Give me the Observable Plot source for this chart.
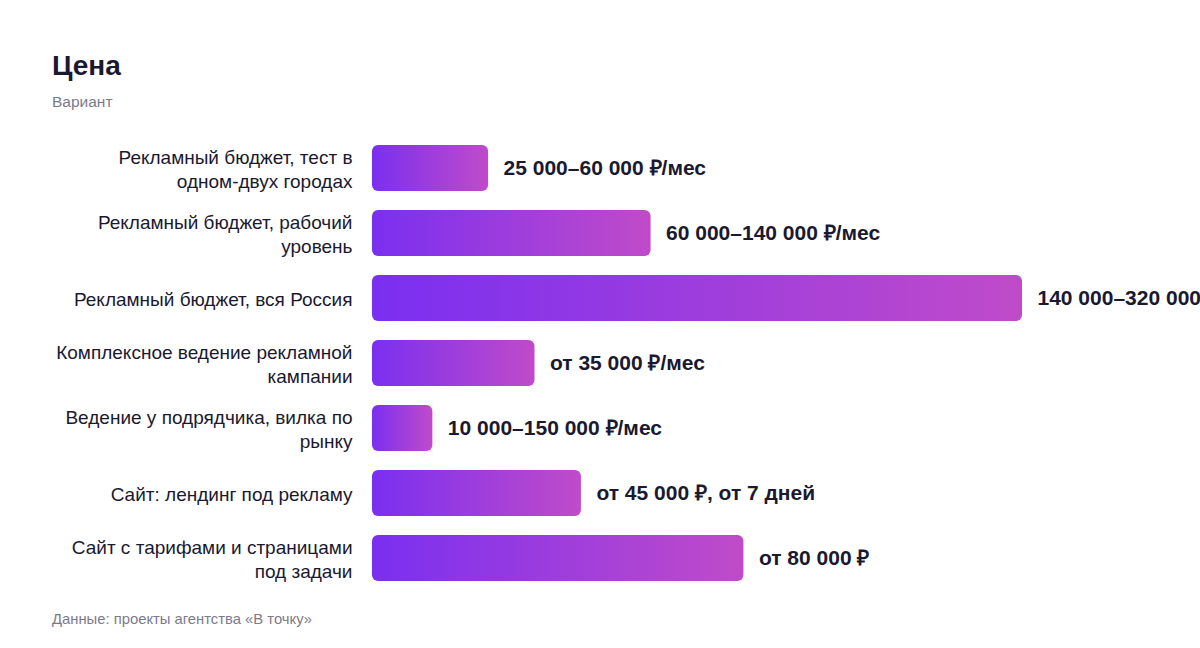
<!DOCTYPE html>
<html>
<head>
<meta charset="utf-8">
<script src="https://cdn.jsdelivr.net/npm/d3@7"></script>
<script src="https://cdn.jsdelivr.net/npm/@observablehq/plot@0.6"></script>
<style>
  html, body { margin: 0; padding: 0; background: #fff; overflow: hidden; width: 1200px; height: 648px; }
  body { font-family: "Liberation Sans", Arial, Helvetica, sans-serif; color: #1a1930; }
  .head { padding: 49px 0 0 52px; }
  h1 { margin: 0; font-size: 28px; line-height: 34px; font-weight: 700; color: #1a1930; }
  .sub { margin-top: 9px; font-size: 15.5px; line-height: 20px; color: #7b7a8c; }
  #chart svg { display: block; overflow: visible; }
  .cap { margin: 19px 0 0 52px; font-size: 14.8px; line-height: 18px; color: #7b7a8c; }
</style>
</head>
<body>
<div class="head">
  <h1>Цена</h1>
  <div class="sub">Вариант</div>
</div>
<div id="chart"></div>
<div class="cap">Данные: проекты агентства «В точку»</div>
<script>
const categories = [
  "Рекламный бюджет, тест в одном-двух городах",
  "Рекламный бюджет, рабочий уровень",
  "Рекламный бюджет, вся Россия",
  "Комплексное ведение рекламной кампании",
  "Ведение у подрядчика, вилка по рынку",
  "Сайт: лендинг под рекламу",
  "Сайт с тарифами и страницами под задачи"
];
const tickLabels = [
  "Рекламный бюджет, тест в\nодном-двух городах",
  "Рекламный бюджет, рабочий\nуровень",
  "Рекламный бюджет, вся Россия",
  "Комплексное ведение рекламной\nкампании",
  "Ведение у подрядчика, вилка по\nрынку",
  "Сайт: лендинг под рекламу",
  "Сайт с тарифами и страницами\nпод задачи"
];
const values = [25000, 60000, 140000, 35000, 13000, 45000, 80000];
const valueLabels = [
  "25 000–60 000 ₽/мес",
  "60 000–140 000 ₽/мес",
  "140 000–320 000 ₽/мес",
  "от 35 000 ₽/мес",
  "10 000–150 000 ₽/мес",
  "от 45 000 ₽, от 7 дней",
  "от 80 000 ₽"
];

const data = categories.map((c, i) => ({cat: c, value: values[i], label: valueLabels[i], tick: tickLabels[i]}));

const chart = Plot.plot({
  width: 1200,
  height: 478.5,
  marginTop: 23.5,
  marginBottom: 0,
  marginLeft: 372,
  marginRight: 178,
  style: {fontFamily: "'Liberation Sans', Arial, Helvetica, sans-serif", background: "transparent", overflow: "visible"},
  x: {domain: [0, 140000], axis: null},
  y: {domain: categories, padding: 0.29, paddingOuter: 0.145, label: null},
  marks: [
    Plot.barX(data, {y: "cat", x1: 0, x2: "value", fill: "url(#barGrad)", rx: 6}),
    Plot.text(data, {y: "cat", x: "value", text: "label", dx: 15, textAnchor: "start", fontSize: 21, fontWeight: 700, fill: "#1a1930"}),
    Plot.axisY({tickSize: 0, tickPadding: 20, fontSize: 19, lineHeight: 1.26, fill: "#1a1930",
      tickFormat: d => tickLabels[categories.indexOf(d)], label: null})
  ]
});

const defs = d3.select(chart).insert("defs", ":first-child");
const grad = defs.append("linearGradient").attr("id", "barGrad").attr("x1", "0").attr("x2", "1").attr("y1", "0").attr("y2", "0");
grad.append("stop").attr("offset", "0%").attr("stop-color", "#7a2ff0");
grad.append("stop").attr("offset", "100%").attr("stop-color", "#c04bc9");

document.getElementById("chart").appendChild(chart);
</script>
</body>
</html>
